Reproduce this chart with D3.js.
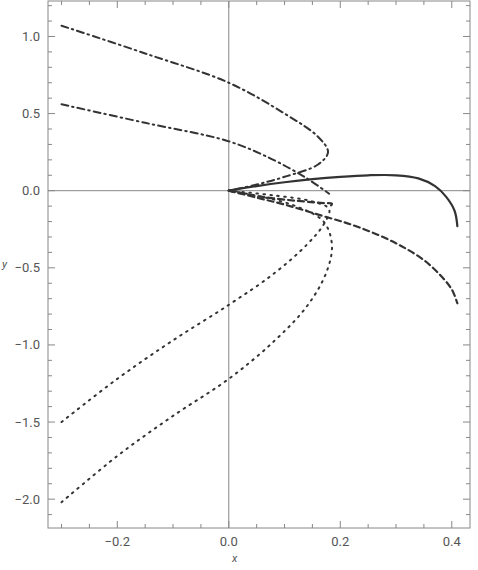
<!DOCTYPE html>
<html><head><meta charset="utf-8">
<script src="https://cdn.jsdelivr.net/npm/d3@7"></script>
<style>body{margin:0;background:#fff}</style></head>
<body><svg id="c" width="478" height="570"></svg>
<script>
// curves, [x, y]
const solid = [[0,0],[0.05,0.03],[0.1,0.055],[0.15,0.075],[0.2,0.09],[0.25,0.1],[0.3,0.1],[0.34,0.08],[0.37,0.03],[0.39,-0.04],[0.405,-0.13],[0.41,-0.23]];
const dashed = [[0,0],[0.05,-0.045],[0.1,-0.09],[0.165,-0.16],[0.22,-0.22],[0.27,-0.29],[0.31,-0.36],[0.35,-0.45],[0.38,-0.55],[0.4,-0.64],[0.41,-0.73]];
const dashedShort = [[0,0],[0.06,-0.04],[0.12,-0.065],[0.17,-0.08],[0.185,-0.085],[0.18,-0.11]];
const dashDotA = [[-0.3,1.07],[-0.15,0.89],[0,0.7],[0.1,0.5],[0.16,0.35],[0.178,0.25],[0.16,0.17],[0.1,0.09],[0.05,0.04],[0,0]];
const dashDotB = [[-0.3,0.56],[-0.15,0.44],[0,0.32],[0.08,0.2],[0.14,0.08],[0.18,-0.02]];
const dottedA = [[-0.3,-1.5],[-0.2,-1.22],[-0.1,-0.97],[0,-0.74],[0.08,-0.54],[0.14,-0.35],[0.17,-0.22],[0.18,-0.12],[0.15,-0.07],[0.08,-0.03],[0,0]];
const dottedB = [[-0.3,-2.02],[-0.2,-1.72],[-0.1,-1.46],[0,-1.22],[0.08,-0.98],[0.14,-0.75],[0.175,-0.53],[0.185,-0.35],[0.17,-0.2],[0.12,-0.1],[0.06,-0.04],[0,0]];
const xTicks = [-0.2,0.0,0.2,0.4];
const yTicks = [-2.0,-1.5,-1.0,-0.5,0.0,0.5,1.0];

const svg = d3.select("#c");
const L=48, R=470, T=1, B=528;
const x = d3.scaleLinear().domain([-0.3243,0.4327]).range([L,R]);
const y = d3.scaleLinear().domain([-2.187,1.23]).range([B,T]);
const grey="#888", tc="#555";

svg.append("rect").attr("x",L).attr("y",T).attr("width",R-L).attr("height",B-T)
  .attr("fill","none").attr("stroke",grey);

// minor + major ticks
const xMinor = d3.range(-0.3,0.44,0.05);
xMinor.forEach(v=>{
  const major = xTicks.some(t=>Math.abs(t-v)<1e-6);
  const len = major?7:4;
  [[B,-1],[T,1]].forEach(([y0,d])=>svg.append("line").attr("x1",x(v)).attr("x2",x(v))
    .attr("y1",y0).attr("y2",y0+d*len).attr("stroke",grey));
});
const yMinor = d3.range(-2.1,1.21,0.1);
yMinor.forEach(v=>{
  const major = yTicks.some(t=>Math.abs(t-v)<1e-6);
  const len = major?7:4;
  [[L,1],[R,-1]].forEach(([x0,d])=>svg.append("line").attr("y1",y(v)).attr("y2",y(v))
    .attr("x1",x0).attr("x2",x0+d*len).attr("stroke",grey));
});
svg.selectAll(".xl").data(xTicks).join("text").attr("x",d=>x(d)).attr("y",B+18)
  .attr("text-anchor","middle").attr("fill",tc).attr("font-family","Roboto, sans-serif").attr("font-size",13)
  .text(d=>d3.format(".1f")(d).replace("-","\u2212"));
svg.selectAll(".yl").data(yTicks).join("text").attr("x",L-8).attr("y",d=>y(d)+4.5)
  .attr("text-anchor","end").attr("fill",tc).attr("font-family","Roboto, sans-serif").attr("font-size",13)
  .text(d=>d3.format(".1f")(d).replace("-","\u2212"));
svg.append("text").attr("x",(L+R)/2-27).attr("y",562).attr("fill",tc).attr("font-style","italic")
  .attr("font-family","Roboto, sans-serif").attr("font-size",11).text("x");
svg.append("text").attr("x",2).attr("y",268).attr("fill",tc).attr("font-style","italic")
  .attr("font-family","Roboto, sans-serif").attr("font-size",11).text("y");

// axes through origin
svg.append("line").attr("x1",L).attr("x2",R).attr("y1",y(0)).attr("y2",y(0)).attr("stroke",grey);
svg.append("line").attr("x1",x(0)).attr("x2",x(0)).attr("y1",T).attr("y2",B).attr("stroke",grey);

const line = d3.line().x(d=>x(d[0])).y(d=>y(d[1])).curve(d3.curveCatmullRom);
const series = [
  [solid,null,2.2],[dashed,"6,4",2.2],[dashedShort,"6,4",2.2],
  [dashDotA,"7,4,1.5,4",2],[dashDotB,"7,4,1.5,4",2],
  [dottedA,"1.5,5.5",2],[dottedB,"1.5,5.5",2]
];
series.forEach(([d,dash,w])=>svg.append("path").attr("d",line(d)).attr("fill","none")
  .attr("stroke","#333").attr("stroke-width",w).attr("stroke-linecap","round")
  .attr("stroke-dasharray",dash));
</script></body></html>
